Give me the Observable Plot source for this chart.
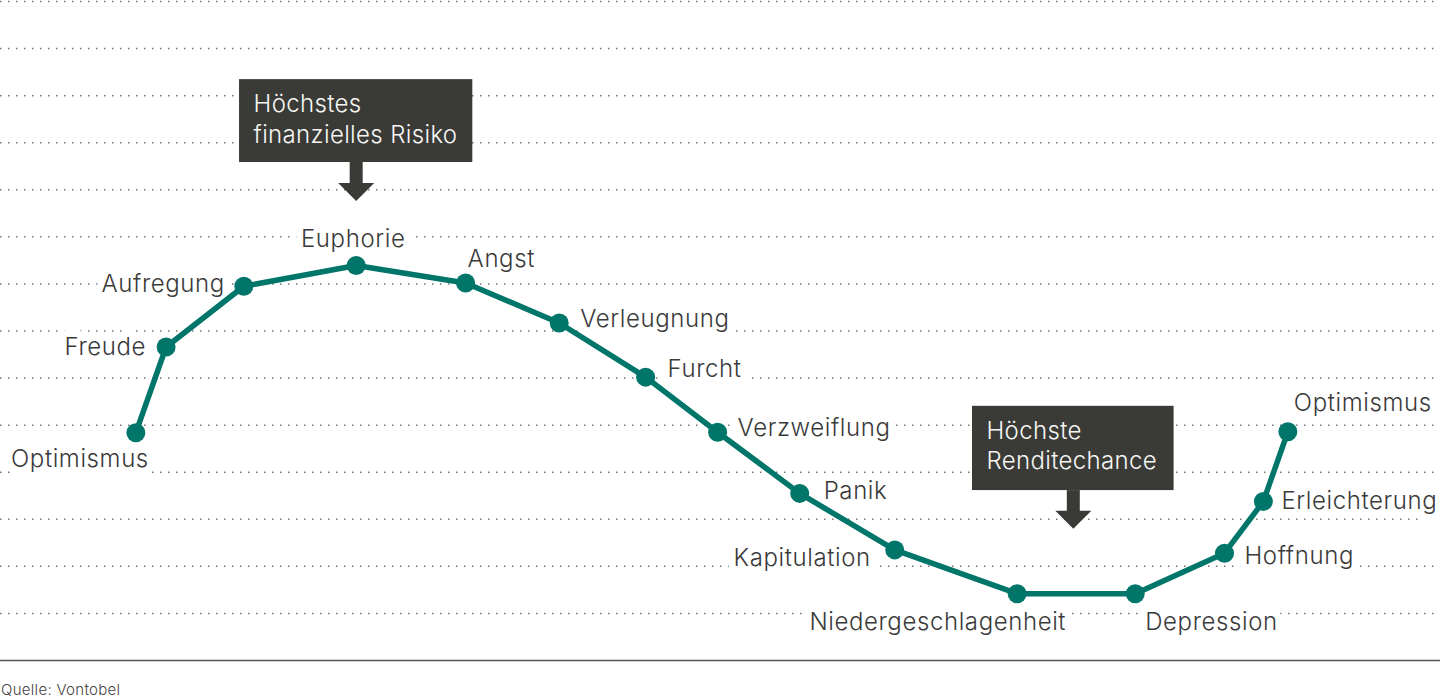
<!DOCTYPE html>
<html>
<head>
<meta charset="utf-8">
<script src="https://cdn.jsdelivr.net/npm/d3@7"></script>
<script src="https://cdn.jsdelivr.net/npm/@observablehq/plot@0.6"></script>
<style>
  body { margin: 0; background: #fff; font-family: Inter, "Noto Sans", sans-serif; }
  #caption { font-size: 15px; color: #444; padding: 9px 0 0 1px; line-height: 18px; letter-spacing: 0.3px; font-weight: 300; }
  svg text { letter-spacing: 0.35px; }
  svg g.phase-label text { letter-spacing: 0.6px; }
</style>
</head>
<body>
<div id="chart"></div>
<div id="caption">Quelle: Vontobel</div>
<script>
// Phases of the market sentiment cycle
const phases = ["Optimismus","Freude","Aufregung","Euphorie","Angst","Verleugnung","Furcht",
  "Verzweiflung","Panik","Kapitulation","Niedergeschlagenheit","Depression","Hoffnung",
  "Erleichterung","Optimismus"];
// position along the cycle (0–100)
const phaseX = [9.4, 11.5, 16.9, 24.7, 32.3, 38.8, 44.8, 49.8, 55.5, 62.1, 70.6, 78.8, 85.0, 87.7, 89.4];
// sentiment level (0–14)
const sentiment = [4.84, 6.66, 7.95, 8.39, 8.02, 7.17, 6.02, 4.85, 3.55, 2.35, 1.42, 1.42, 2.28, 3.38, 4.86];
const gridLevels = d3.range(1, 15);

// annotations
const annText = ["Höchstes\nfinanzielles Risiko", "Höchste\nRenditechance"];
const annX1 = [16.6, 67.5];
const annX2 = [32.8, 81.5];
const annYTop = [12.34, 5.40];
const annYBottom = [10.58, 3.61];
const arrowX = [24.7, 74.5];
const arrowTip = [9.76, 2.80];

// label placement (layout only): [dx, dy, anchor]
const labelPlacement = [
  [13, 27, "end"], [-20, 0, "end"], [-19, -2, "end"], [-3, -26, "middle"], [2, -24, "start"],
  [21, -4, "start"], [22, -8, "start"], [20, -4, "start"], [24, -2, "start"], [-24, 8, "end"],
  [49, 29, "end"], [10, 29, "start"], [20, 3, "start"], [18, 0, "start"], [6, -28, "start"]
];

const points = phases.map((p, i) => ({phase: p, x: phaseX[i], y: sentiment[i]}));
const annotations = annText.map((t, i) => ({
  text: t, x1: annX1[i], x2: annX2[i], yTop: annYTop[i], yBottom: annYBottom[i],
  ax: arrowX[i], tip: arrowTip[i]
}));

const teal = "#00756a";
const dark = "#3a3b37";
const textColor = "#3a3a3a";

const arrowHead = {
  draw(context) {
    context.moveTo(-18, -18);
    context.lineTo(18, -18);
    context.lineTo(0, 0);
    context.closePath();
  }
};

const labelMarks = points.map((d, i) => {
  const [dx, dy, anchor] = labelPlacement[i];
  return Plot.text([d], {
    x: "x", y: "y", text: "phase", dx, dy, textAnchor: anchor, className: "phase-label",
    fill: textColor, stroke: "white", strokeWidth: 14, fontSize: 24, fontWeight: 300
  });
});

const chart = Plot.plot({
  width: 1440,
  height: 672,
  marginLeft: 0,
  marginRight: 0,
  marginTop: 1,
  marginBottom: 12,
  x: {domain: [0, 100], axis: null},
  y: {domain: [0, 14], axis: null},
  style: {fontFamily: "Inter, 'Noto Sans', sans-serif", overflow: "visible", background: "white"},
  marks: [
    Plot.ruleY(gridLevels, {stroke: "#777", strokeWidth: 1.5, strokeDasharray: "1.5 6.5"}),
    Plot.ruleY([0], {stroke: "#555", strokeWidth: 1.5}),
    Plot.rect(annotations, {x1: "x1", x2: "x2", y1: "yBottom", y2: "yTop", fill: dark}),
    Plot.ruleX(annotations, {x: "ax", y1: "yBottom", y2: "tip", stroke: dark, strokeWidth: 13, insetBottom: 16}),
    Plot.dot(annotations, {x: "ax", y: "tip", symbol: arrowHead, fill: dark, stroke: null, r: 10}),
    Plot.text(annotations, {
      x: "x1", y: "yTop", text: "text", dx: 14, dy: 11, textAnchor: "start", lineAnchor: "top",
      lineHeight: 1.27, fill: "#f6f6f4", fontSize: 24, fontWeight: 300
    }),
    ...labelMarks,
    Plot.line(points, {x: "x", y: "y", stroke: teal, strokeWidth: 5.5, strokeLinejoin: "round"}),
    Plot.dot(points, {x: "x", y: "y", r: 9.5, fill: teal, stroke: null})
  ]
});
document.getElementById("chart").appendChild(chart);
</script>
</body>
</html>
